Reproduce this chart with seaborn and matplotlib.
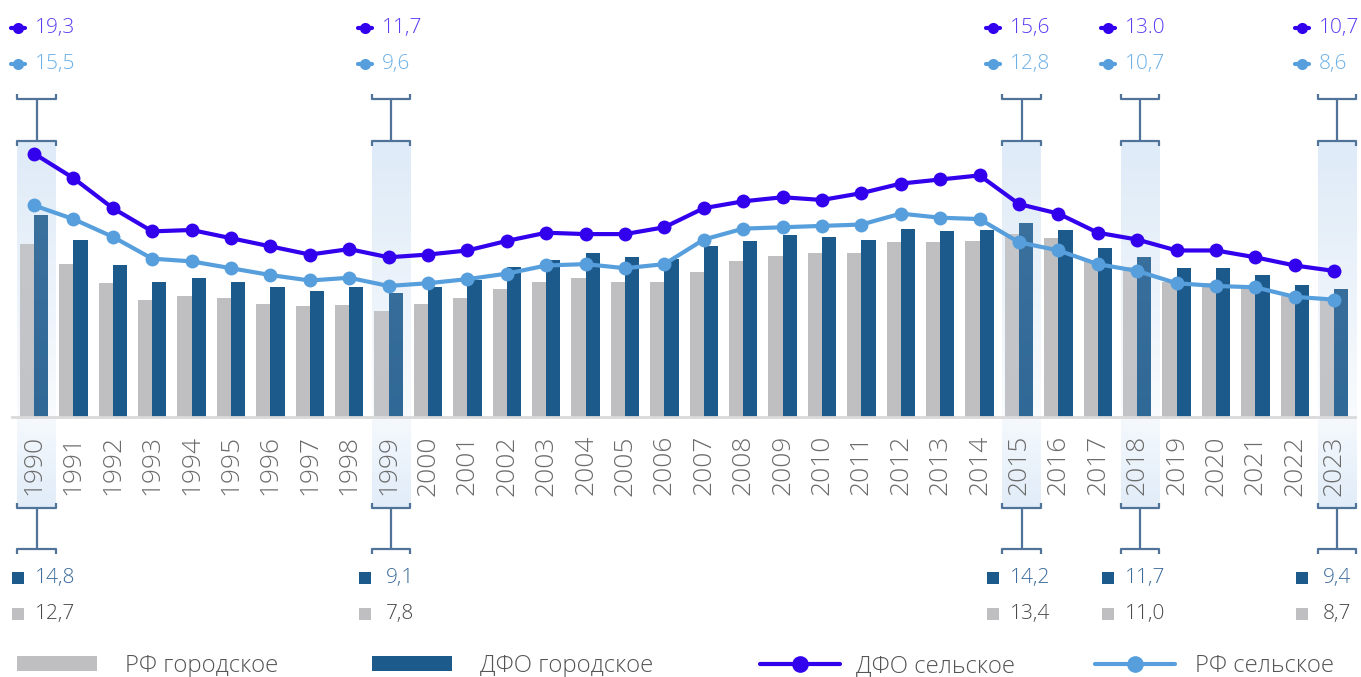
import numpy as np
import pandas as pd
import matplotlib
matplotlib.use("Agg")
import matplotlib.pyplot as plt
import seaborn as sns
from matplotlib.lines import Line2D
from matplotlib.patches import Patch

# ---------------- data ----------------
years = list(range(1990, 2024))
rf_urban = [12.7, 11.2, 9.8, 8.6, 8.9, 8.7, 8.3, 8.1, 8.2, 7.8, 8.3, 8.7, 9.4, 9.9, 10.2, 9.9, 9.9,
            10.6, 11.4, 11.8, 12.0, 12.0, 12.8, 12.8, 12.9, 13.4, 13.1, 11.4, 11.0, 9.9, 9.8, 9.4, 8.9, 8.7]
dfo_urban = [14.8, 13.0, 11.1, 9.9, 10.2, 9.9, 9.5, 9.2, 9.5, 9.1, 9.5, 10.0, 11.0, 11.5, 12.0, 11.7, 11.6,
             12.5, 12.9, 13.3, 13.2, 13.0, 13.8, 13.6, 13.7, 14.2, 13.7, 12.4, 11.7, 10.9, 10.9, 10.4, 9.7, 9.4]
dfo_rural = [19.3, 17.5, 15.3, 13.6, 13.7, 13.1, 12.5, 11.9, 12.3, 11.7, 11.9, 12.2, 12.9, 13.5, 13.4, 13.4, 13.9,
             15.3, 15.8, 16.1, 15.9, 16.4, 17.1, 17.4, 17.7, 15.6, 14.9, 13.5, 13.0, 12.2, 12.2, 11.7, 11.1, 10.7]
rf_rural = [15.5, 14.5, 13.2, 11.6, 11.4, 10.9, 10.4, 10.0, 10.2, 9.6, 9.8, 10.1, 10.5, 11.1, 11.2, 10.9, 11.2,
            13.0, 13.8, 13.9, 14.0, 14.1, 14.9, 14.6, 14.5, 12.8, 12.2, 11.2, 10.7, 9.8, 9.6, 9.5, 8.8, 8.6]

series_names = ["РФ городское", "ДФО городское", "ДФО сельское", "РФ сельское"]

highlight_years = [1990, 1999, 2015, 2018, 2023]
hl_dfo_rural = ["19,3", "11,7", "15,6", "13.0", "10,7"]
hl_rf_rural = ["15,5", "9,6", "12,8", "10,7", "8,6"]
hl_dfo_urban = ["14,8", "9,1", "14,2", "11,7", "9,4"]
hl_rf_urban = ["12,7", "7,8", "13,4", "11,0", "8,7"]

# ---------------- style ----------------
C_GRAY = "#bfbfc1"
C_DARK = "#1d5a8c"
C_PURP = "#3300ee"
C_LIGHT = "#569fdc"
C_BRACKET = "#4f7399"

sns.set_style("white")
plt.rcParams["font.family"] = ["Open Sans", "DejaVu Sans"]

W, H = 1361, 677
fig = plt.figure(figsize=(W / 100, H / 100), dpi=100)
ax = fig.add_axes([0, 0, 1, 1])

PX, X0, Y0, PY = 39.4, 34.0, 417.0, 13.65
def xd(px):
    return (px - X0) / PX
def yd(py):
    return (Y0 - py) / PY
def dx(px):
    return px / PX

n = len(years)
df = pd.DataFrame({
    "year": years * 2,
    "value": rf_urban + dfo_urban,
    "series": [series_names[0]] * n + [series_names[1]] * n,
})

sns.barplot(data=df, x="year", y="value", hue="series", hue_order=series_names[:2],
            palette=[C_GRAY, C_DARK], width=0.72, gap=0, saturation=1, linewidth=0,
            ax=ax, legend=False, zorder=2)

pos = np.arange(n)
sns.lineplot(x=pos, y=dfo_rural, color=C_PURP, marker="o", markersize=10, linewidth=3,
             markeredgewidth=0, ax=ax, zorder=4)
sns.lineplot(x=pos, y=rf_rural, color=C_LIGHT, marker="o", markersize=10, linewidth=3,
             markeredgewidth=0, ax=ax, zorder=4)

# axes cosmetics (spine position first: it resets ticks)
for s in ["top", "right", "left"]:
    ax.spines[s].set_visible(False)
ax.spines["bottom"].set_position(("data", 0))
ax.spines["bottom"].set_color("#d9d9d9")
ax.spines["bottom"].set_linewidth(2)
ax.spines["bottom"].set_bounds(xd(12), xd(1355))
ax.spines["bottom"].set_zorder(2.5)
ax.set_xticks(pos)
ax.set_xticklabels([str(y) for y in years], rotation=90, fontsize=19, color="#6b6b6b",
                   fontweight="light")
ax.tick_params(axis="x", length=0, pad=13)
ax.xaxis.set_zorder(2)
ax.set_yticks([])
ax.set_xlabel("")
ax.set_ylabel("")

# highlight bands and annotations
band_rgb = np.array([0.875, 0.925, 0.975])
mk_dx = [-19, -26, -29, -32, -35]
for k, yr in enumerate(highlight_years):
    i = years.index(yr)
    xl, xr = i - 0.42, i + 0.55
    xc = (xl + xr) / 2
    N = 200
    # upper gradient (behind bars)
    img = np.zeros((N, 1, 4))
    img[:, 0, :3] = band_rgb
    img[:, 0, 3] = np.linspace(1.0, 0.1, N)
    ax.imshow(img, extent=(xl, xr, 0, yd(141)), aspect="auto", zorder=1, interpolation="bilinear")
    # faint veil over bars
    veil = np.zeros((N, 1, 4))
    veil[:, 0, :3] = band_rgb
    veil[:, 0, 3] = np.linspace(0.18, 0.10, N)
    ax.imshow(veil, extent=(xl, xr, 0, yd(141)), aspect="auto", zorder=3, interpolation="bilinear")
    # lower gradient (behind the year labels)
    img2 = np.zeros((N, 1, 4))
    img2[:, 0, :3] = band_rgb
    img2[:, 0, 3] = np.linspace(0.3, 0.95, N)
    ax.imshow(img2, extent=(xl, xr, yd(508), 0), aspect="auto", zorder=0.2, interpolation="bilinear")
    # brackets
    kw = dict(color=C_BRACKET, lw=1.6, solid_capstyle="butt", zorder=5)
    ax.plot([xl, xl, xr, xr], [yd(94), yd(99), yd(99), yd(94)], **kw)
    ax.plot([xc, xc], [yd(99), yd(141)], **kw)
    ax.plot([xl, xl, xr, xr], [yd(146), yd(141), yd(141), yd(146)], **kw)
    ax.plot([xl, xl, xr, xr], [yd(503), yd(508), yd(508), yd(503)], **kw)
    ax.plot([xc, xc], [yd(508), yd(549)], **kw)
    ax.plot([xl, xl, xr, xr], [yd(554), yd(549), yd(549), yd(554)], **kw)
    # value labels
    xm = xc + dx(mk_dx[k])
    for lab, ypx, col, tcol in [(hl_dfo_rural[k], 28, C_PURP, "#5a3cf2"),
                                (hl_rf_rural[k], 64, C_LIGHT, "#6cb0e6")]:
        ax.plot([xm - dx(7), xm + dx(7)], [yd(ypx)] * 2, color=col, lw=3, zorder=5)
        ax.plot([xm], [yd(ypx)], "o", color=col, ms=8, mew=0, zorder=5)
        ax.text(xm + dx(17), yd(ypx), lab, ha="left", va="center", fontsize=15, color=tcol,
                fontweight="light")
    for lab, ypx, col, tcol in [(hl_dfo_urban[k], 578, C_DARK, "#3d6c9c"),
                                (hl_rf_urban[k], 614, C_GRAY, "#4a4a4a")]:
        ax.plot([xm], [yd(ypx)], "s", color=col, ms=9, mew=0, zorder=5)
        extra = 4 if len(lab) == 3 else 0
        ax.text(xm + dx(17 + extra), yd(ypx), lab, ha="left", va="center", fontsize=15, color=tcol,
                fontweight="light")

ax.set_xlim(xd(0), xd(W))
ax.set_ylim(yd(H), yd(0))

# legend: one entry per anchor
handles = [
    Patch(facecolor=C_GRAY, edgecolor="none"),
    Patch(facecolor=C_DARK, edgecolor="none"),
    Line2D([], [], color=C_PURP, lw=3, marker="o", ms=12, mew=0),
    Line2D([], [], color=C_LIGHT, lw=3, marker="o", ms=12, mew=0),
]
leg_x = [17, 372, 760, 1095]
leg_pad = [1.15, 1.15, 0.65, 0.85]
for h, lab, lx, lp in zip(handles, series_names, leg_x, leg_pad):
    lg = fig.legend([h], [lab], loc="center left", bbox_to_anchor=(lx / W, 1 - 666 / H),
                    frameon=False, borderpad=0, borderaxespad=0,
                    handlelength=3.33, handleheight=0.55, handletextpad=lp,
                    labelcolor="#555555", prop={"weight": "light", "size": 17.3})

fig.savefig("out.png", dpi=100)
